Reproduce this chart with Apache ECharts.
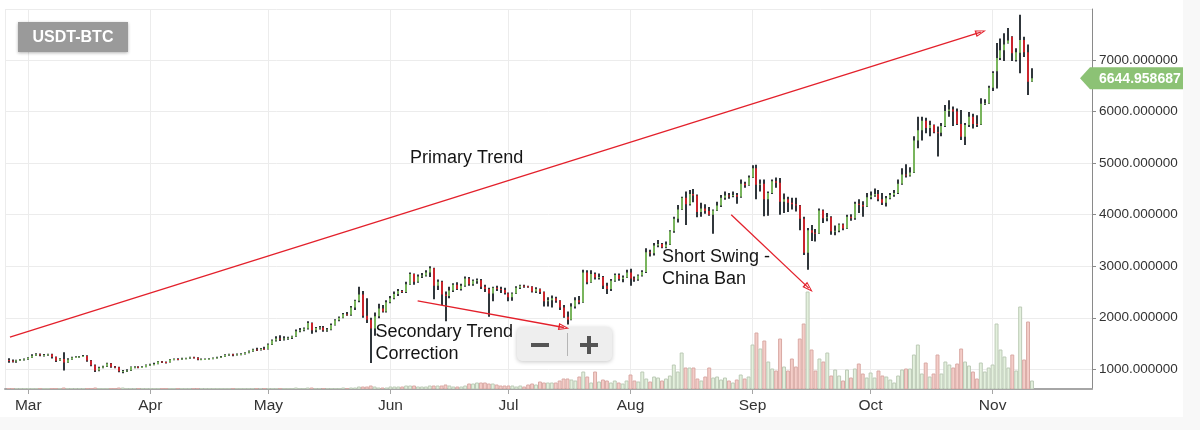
<!DOCTYPE html>
<html><head><meta charset="utf-8">
<script src="https://cdn.jsdelivr.net/npm/echarts@6.0.0/dist/echarts.min.js"></script>
<style>html,body{margin:0;padding:0;background:#f8f8f8;} #chart{width:1183px;height:417px;background:#fff;}</style>
</head><body><div id="chart"></div>
<script>
// ---------------- DATA ----------------
const firstDay = [2017, 1, 24];          // 24 Feb 2017, one candle per day
const monthLabels = ['Jan','Feb','Mar','Apr','May','Jun','Jul','Aug','Sep','Oct','Nov','Dec'];
// daily candles: [open, close, low, high]
const candles = [
// Feb 24-28
[1180,1165,1125,1215],[1165,1150,1130,1190],[1150,1175,1125,1185],[1175,1190,1165,1200],[1190,1195,1170,1210],
// Mar
[1195,1225,1185,1235],[1225,1265,1220,1290],[1265,1290,1260,1310],[1290,1275,1255,1305],[1275,1280,1250,1295],
[1280,1290,1265,1300],[1290,1240,1210,1300],[1240,1165,1140,1250],[1165,1200,1160,1215],[1200,1130,975,1330],
[1130,1190,1125,1215],[1190,1230,1185,1245],[1230,1240,1220,1255],[1240,1250,1225,1260],[1250,1260,1240,1280],
[1260,1170,1145,1275],[1170,1080,1060,1180],[1080,975,950,1095],[975,1030,960,1050],[1030,1055,1020,1070],
[1055,1115,1045,1125],[1115,1050,1030,1120],[1050,1040,1020,1065],[1040,960,945,1050],[960,965,925,985],
[965,975,950,1000],[975,1045,965,1055],[1045,1050,1020,1060],[1050,1040,1020,1060],[1040,1045,1025,1060],
[1045,1085,1040,1095],
// Apr
[1085,1095,1070,1110],[1095,1105,1080,1125],[1105,1150,1100,1160],[1150,1140,1120,1160],[1140,1135,1115,1150],
[1135,1190,1130,1200],[1190,1200,1175,1210],[1200,1190,1175,1215],[1190,1210,1185,1225],[1210,1215,1195,1225],
[1215,1235,1205,1245],[1235,1225,1210,1245],[1225,1190,1175,1235],[1190,1195,1180,1210],[1195,1200,1185,1210],
[1200,1205,1190,1215],[1205,1220,1195,1230],[1220,1230,1210,1245],[1230,1245,1220,1260],[1245,1280,1240,1290],
[1280,1290,1265,1300],[1290,1285,1255,1300],[1285,1290,1270,1305],[1290,1295,1275,1310],[1295,1320,1285,1330],
[1320,1350,1310,1365],[1350,1385,1340,1400],[1385,1375,1355,1420],[1375,1400,1365,1415],[1400,1395,1380,1440],
// May
[1395,1480,1385,1500],[1480,1560,1470,1580],[1560,1600,1540,1640],[1600,1580,1550,1660],[1580,1600,1560,1640],
[1600,1610,1575,1630],[1610,1640,1590,1650],[1640,1740,1630,1770],[1740,1760,1720,1800],[1760,1790,1740,1810],
[1790,1900,1770,1930],[1900,1760,1690,1910],[1760,1800,1720,1820],[1800,1810,1770,1840],[1810,1760,1730,1840],
[1760,1770,1730,1800],[1770,1860,1760,1890],[1860,1950,1850,1970],[1950,2000,1930,2025],[2000,2070,1990,2090],
[2070,2060,2040,2110],[2060,2200,2040,2230],[2200,2330,2150,2350],[2330,2450,2300,2600],[2450,2040,2000,2520],
[2040,1960,1900,2380],[1960,1790,1120,2000],[1790,2030,1650,2100],[2030,2180,1990,2270],[2180,2120,2100,2250],
[2120,2300,2100,2340],
// Jun
[2300,2380,2280,2420],[2380,2460,2360,2510],[2460,2520,2420,2560],[2520,2500,2480,2540],[2500,2650,2480,2700],
[2650,2850,2640,2880],[2850,2700,2640,2860],[2700,2800,2680,2840],[2800,2820,2770,2870],[2820,2880,2800,2920],
[2880,2960,2790,3000],[2960,2620,2360,2970],[2620,2700,2540,2740],[2700,2450,2250,2720],[2450,2420,1930,2510],
[2420,2530,2380,2600],[2530,2640,2500,2670],[2640,2560,2540,2690],[2560,2620,2530,2660],[2620,2760,2600,2800],
[2760,2650,2620,2790],[2650,2720,2620,2740],[2720,2730,2660,2760],[2730,2600,2560,2750],[2600,2560,2500,2640],
[2560,2470,2020,2580],[2470,2580,2320,2600],[2580,2560,2520,2620],[2560,2540,2480,2600],[2540,2480,2450,2580],
// Jul
[2470,2400,2320,2490],[2400,2470,2330,2490],[2470,2580,2460,2610],[2580,2620,2560,2640],[2620,2610,2580,2640],
[2610,2600,2580,2620],[2600,2510,2490,2610],[2510,2560,2480,2590],[2560,2500,2460,2570],[2500,2320,2220,2510],
[2320,2340,2220,2400],[2340,2380,2200,2430],[2380,2330,2290,2410],[2330,2200,2150,2340],[2200,2020,2000,2250],
[2020,1960,1870,2120],[1960,2220,1950,2280],[2220,2340,2180,2400],[2340,2300,2260,2420],[2300,2880,2290,2930],
[2880,2690,2650,2920],[2690,2850,2680,2920],[2850,2780,2740,2880],[2780,2790,2740,2860],[2790,2620,2560,2810],
[2620,2560,2460,2680],[2560,2720,2520,2750],[2720,2830,2700,2860],[2830,2750,2720,2860],[2750,2780,2690,2820],
[2780,2880,2770,2930],
// Aug
[2880,2760,2620,2950],[2760,2740,2700,2800],[2740,2820,2720,2840],[2820,2890,2800,2920],[2890,3270,2870,3350],
[3270,3250,3190,3320],[3250,3400,3210,3450],[3400,3430,3370,3510],[3430,3370,3350,3450],[3370,3420,3350,3480],
[3420,3680,3410,3700],[3680,3920,3650,3960],[3920,4100,3850,4190],[4100,4330,4090,4350],[4330,4200,3800,4450],
[4200,4400,4180,4480],[4400,4370,4240,4500],[4370,4050,3950,4390],[4050,4120,3960,4230],[4120,4070,4020,4200],
[4070,4000,3980,4150],[4000,4080,3630,4100],[4080,4180,4070,4250],[4180,4330,4150,4380],[4330,4370,4290,4450],
[4370,4360,4310,4420],[4360,4380,4340,4450],[4380,4350,4210,4420],[4350,4600,4330,4680],[4600,4570,4520,4640],
[4570,4720,4560,4760],
// Sep
[4720,4900,4710,4960],[4900,4580,4300,4970],[4580,4600,4450,4680],[4600,4300,3970,4680],[4300,4420,3980,4450],
[4420,4650,4400,4680],[4650,4620,4520,4720],[4620,4250,4000,4710],[4250,4300,4030,4410],[4300,4230,4050,4350],
[4230,4200,4100,4330],[4200,4180,4060,4330],[4180,3920,3700,4190],[3920,3260,3220,3960],[3260,3700,2930,3740],
[3700,3650,3490,3800],[3650,3640,3480,3720],[3640,4080,3630,4120],[4080,3930,3840,4100],[3930,3950,3870,4030],
[3950,3680,3610,3970],[3680,3690,3600,3790],[3690,3810,3660,3830],[3810,3730,3700,3830],[3730,3960,3720,4000],
[3960,3930,3880,4010],[3930,4210,3900,4250],[4210,4190,4030,4300],[4190,4160,3960,4260],[4160,4340,4150,4420],
// Oct
[4340,4370,4300,4450],[4370,4400,4350,4510],[4400,4300,4260,4480],[4300,4230,4190,4420],[4230,4320,4160,4360],
[4320,4380,4300,4420],[4380,4420,4350,4480],[4420,4600,4400,4680],[4600,4780,4580,4900],[4780,4760,4720,4980],
[4760,4820,4740,4920],[4820,5440,4810,5520],[5440,5640,5290,5900],[5640,5820,5440,5900],[5820,5680,5580,5880],
[5680,5740,5520,5820],[5740,5600,5580,5750],[5600,5590,5130,5710],[5590,5720,5520,5780],[5720,6010,5700,6130],
[6010,6040,5900,6220],[6040,6000,5720,6100],[6000,5760,5740,6060],[5760,5510,5450,6030],[5510,5740,5350,5780],
[5740,5900,5700,5990],[5900,5760,5670,5960],[5760,5750,5700,5930],[5750,6150,5740,6260],[6150,6160,6130,6240],
[6160,6460,6150,6500],
// Nov 1-11
[6460,6750,6400,6780],[6780,7040,6450,7330],[7040,7190,7000,7420],[7190,7300,6980,7520],[7330,7380,7320,7620],
[7450,7130,6980,7460],[7000,7150,6970,7230],[7140,7390,6745,7880],[7390,7150,7060,7450],[7150,6580,6320,7300],
[6585,6644.958687,6580,6840]
];
// daily traded volume (relative units, no scale shown on the chart)
const volume = [
0.5,0.5,0.5,0.5,0.5,
0.5,0.5,0.5,0.5,0.5,0.5,0.5,0.5,0.5,1,0.5,0.5,0.5,0.5,0.5,0.5,0.5,1,0.5,0.5,0.5,0.5,0.5,1,1,0.5,0.5,0.5,0.5,0.5,0.5,
0.5,0.5,0.5,0.5,0.5,0.5,0.5,0.5,0.5,0.5,0.5,0.5,0.5,0.5,0.5,0.5,0.5,0.5,0.5,0.5,0.5,0.5,0.5,0.5,0.5,0.5,0.5,0.5,0.5,0.5,
0.5,0.5,0.5,0.5,0.5,0.5,0.5,1,0.5,0.5,1,1,0.5,0.5,0.5,0.5,0.5,0.5,0.5,1,0.5,1,1,2,2,2,3,2,1,1,1,
2,2,2,2,3,3,3,2,2,2,3,3,3,3,4,3,2,2,2,3,5,5,6,6,6,5,5,4,3,3,
3,3,2,3,2,4,5,4,7,6,6,6,6,8,10,10,9,8,12,17,12,6,17,7,9,8,6,8,6,5,8,
14,8,7,17,10,7,12,11,8,10,13,24,17,36,21,21,21,10,8,12,21,11,12,9,11,8,6,9,14,10,12,
44,56,40,48,27,20,18,50,22,18,30,22,50,65,97,39,18,30,27,36,13,19,13,8,19,11,20,25,15,11,
16,11,18,13,12,9,6,13,19,20,20,34,44,15,26,12,15,34,15,27,24,21,25,40,27,23,17,10,26,17,21,
24,65,39,32,21,34,18,82,29,67,8
];
const lastPrice = 6644.958687;
// hand-drawn trend arrows: [year, month(0-based), day, hour], price
const trendArrows = [
  { from: [[2017,1,24,8], 1625], to: [[2017,9,29,0], 7542] },
  { from: [[2017,5,7,22], 2329], to: [[2017,6,15,2], 1811] },
  { from: [[2017,7,26,14], 3997], to: [[2017,8,15,7], 2575] }
];
const notes = [
  { text: 'Primary Trend', x: 410, y: 158.5 },
  { text: 'Secondary Trend\nCorrection', x: 375.5, y: 343.5 },
  { text: 'Short Swing -\nChina Ban', x: 662, y: 268 }
];

// ---------------- BUILD ----------------
const DAY = 86400000;
const dayTs = candles.map((c, i) => new Date(firstDay[0], firstDay[1], firstDay[2] + i).getTime());
const candleData = candles.map((c, i) => [dayTs[i], c[0], c[1], c[2], c[3]]);
const volData = volume.map((v, i) => [dayTs[i], v, candles[i][1] >= candles[i][0] ? 1 : 0]);
const ts = p => new Date(p[0], p[1], p[2], p[3]).getTime();

const GREEN = '#79b55d', RED = '#c9252c', WICK = '#30363b';
const ARROW_RED = '#e3202b';
const FONT = '"Liberation Sans", Arial, Helvetica, sans-serif';

const chart = echarts.init(document.getElementById('chart'), null, { renderer: 'canvas' });

const openArrow = 'path://M0,0 L6,16 L-6,16 Z M0,4.5 L-3.4,14 L3.4,14 Z';

chart.setOption({
  animation: false,
  backgroundColor: '#ffffff',
  grid: { left: 5, right: 91, top: 9, bottom: 28, containLabel: false },
  xAxis: {
    type: 'time',
    min: new Date(2017, 1, 23, 2).getTime(),
    max: new Date(2017, 10, 26, 6).getTime(),
    splitNumber: 10,
    minInterval: 28 * DAY,
    maxInterval: 31 * DAY,
    axisLine: { show: true, lineStyle: { color: '#a6a6a6', width: 2 } },
    axisTick: { show: true, length: 5, lineStyle: { color: '#a6a6a6', width: 1 } },
    axisLabel: {
      color: '#333', fontSize: 15.5, fontFamily: FONT, margin: 9,
      showMinLabel: false, showMaxLabel: false,
      formatter: v => monthLabels[new Date(v).getMonth()]
    },
    splitLine: { show: true, lineStyle: { color: '#ececec', width: 1 } }
  },
  yAxis: [{
    type: 'value', position: 'right',
    min: 618, max: 7990, splitNumber: 7,
    axisLine: { show: true, lineStyle: { color: '#8a8a8a', width: 1 } },
    axisTick: { show: true, length: 4, lineStyle: { color: '#8a8a8a' } },
    axisLabel: {
      color: '#333', fontSize: 13.5, fontFamily: FONT, margin: 7,
      showMinLabel: false, showMaxLabel: false,
      formatter: v => v.toFixed(6)
    },
    splitLine: { show: true, lineStyle: { color: '#ececec', width: 1 } }
  }, {
    type: 'value', show: false, min: 0, max: 380,
    splitLine: { show: false }
  }],
  series: [{
    type: 'custom', name: 'volume', yAxisIndex: 1, z: 1, clip: true,
    data: volData, encode: { x: 0, y: 1 },
    renderItem: (params, api) => {
      const p = api.coord([api.value(0), api.value(1)]);
      const b = api.coord([api.value(0), 0]);
      const w = api.size([DAY, 0])[0];
      const up = api.value(2) === 1;
      return {
        type: 'rect',
        shape: { x: p[0] - w / 2 + 0.5, y: p[1], width: w - 1, height: b[1] - p[1] },
        style: { fill: up ? '#e3f0dd' : '#f4cdc8', stroke: up ? '#bccab6' : '#d9aaa5', lineWidth: 1 }
      };
    }
  }, {
    type: 'custom', name: 'USDT-BTC', yAxisIndex: 0, z: 3, clip: true,
    data: candleData, encode: { x: 0, y: [1, 2, 3, 4] },
    renderItem: (params, api) => {
      const t = api.value(0), o = api.value(1), c = api.value(2), l = api.value(3), h = api.value(4);
      const pO = api.coord([t, o]), pC = api.coord([t, c]), pL = api.coord([t, l]), pH = api.coord([t, h]);
      const x = Math.round(pO[0]) - 1;
      const top = Math.min(pO[1], pC[1]);
      return {
        type: 'group',
        children: [
          { type: 'rect', shape: { x: x, y: pH[1], width: 2, height: pL[1] - pH[1] }, style: { fill: WICK } },
          { type: 'rect', shape: { x: x, y: top, width: 2, height: Math.max(1, Math.abs(pO[1] - pC[1])) },
            style: { fill: c >= o ? GREEN : RED } }
        ]
      };
    }
  }, {
    type: 'line', name: 'trends', data: [], z: 5, silent: true,
    markLine: {
      silent: true, animation: false,
      symbol: ['none', openArrow], symbolSize: [7, 11],
      label: { show: false },
      lineStyle: { color: ARROW_RED, width: 1.3, type: 'solid' },
      emphasis: { disabled: true },
      data: trendArrows.map(a => [{ coord: [ts(a.from[0]), a.from[1]] }, { coord: [ts(a.to[0]), a.to[1]] }])
    }
  }]
});

// overlay graphics (title badge, annotations, zoom buttons, last-price tag)
const yLast = chart.convertToPixel({ yAxisIndex: 0 }, lastPrice);
const graphics = [
  { type: 'rect', shape: { x: 18, y: 22, width: 110, height: 30 },
    style: { fill: '#9a9a9a', shadowBlur: 3, shadowColor: 'rgba(0,0,0,0.3)', shadowOffsetY: 1 }, z: 10 },
  { type: 'text', x: 73, y: 37.5, z: 11,
    style: { text: 'USDT-BTC', fill: '#fff', font: 'bold 16px ' + FONT, align: 'center', verticalAlign: 'middle' } },
  // zoom buttons
  { type: 'group', x: 517, y: 327, z: 10, children: [
    { type: 'rect', shape: { x: 0, y: 0, width: 95, height: 34, r: 5 },
      style: { fill: '#eeeeee', shadowBlur: 4, shadowColor: 'rgba(0,0,0,0.22)', shadowOffsetY: 1 } },
    { type: 'rect', shape: { x: 14, y: 16, width: 18, height: 4 }, style: { fill: '#555' } },
    { type: 'line', shape: { x1: 50.5, y1: 6, x2: 50.5, y2: 29 }, style: { stroke: '#b5b5b5', lineWidth: 1 } },
    { type: 'rect', shape: { x: 63, y: 16, width: 18, height: 4 }, style: { fill: '#555' } },
    { type: 'rect', shape: { x: 70, y: 9, width: 4, height: 18 }, style: { fill: '#555' } }
  ]},
  // last price tag
  { type: 'polygon', z: 10,
    shape: { points: [[1080, yLast], [1090, yLast - 11], [1190, yLast - 11], [1190, yLast + 11], [1090, yLast + 11]] },
    style: { fill: '#8cc275' } },
  { type: 'text', x: 1099, y: yLast + 0.5, z: 11,
    style: { text: lastPrice.toFixed(6), fill: '#fff', font: 'bold 14px ' + FONT, verticalAlign: 'middle' } }
];
notes.forEach(n => graphics.push({
  type: 'text', x: n.x, y: n.y, z: 12,
  style: { text: n.text, fill: '#141414', font: '18px ' + FONT, verticalAlign: 'middle', lineHeight: 22 }
}));
chart.setOption({ graphic: graphics });
</script>
</body></html>
